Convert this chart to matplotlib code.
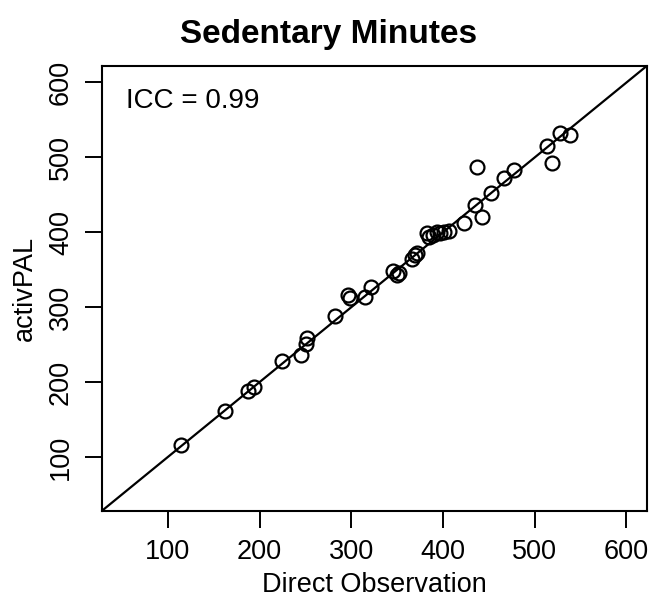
import matplotlib
matplotlib.use('Agg')
import matplotlib.pyplot as plt

plt.rcParams['font.family'] = ['Liberation Sans', 'DejaVu Sans']

# Direct observation vs activPAL sedentary minutes
direct_obs = [114, 162, 187, 194, 225, 245, 251, 252, 282, 297, 299, 315, 322,
              346, 350, 352, 366, 370, 372, 383, 385, 389, 393, 397, 401, 407,
              423, 435, 442, 437, 452, 467, 477, 513, 519, 528, 538]
activpal = [116, 161, 188, 194, 228, 236, 251, 259, 288, 316, 312, 313, 327,
            348, 343, 346, 365, 370, 373, 399, 394, 396, 400, 399, 400, 402,
            412, 436, 420, 487, 453, 472, 483, 515, 493, 532, 530]
ticks = [100, 200, 300, 400, 500, 600]
icc_label = 'ICC = 0.99'

fig = plt.figure(figsize=(6.54, 5.99), dpi=100)
ax = fig.add_axes([0.1555, 0.1469, 0.8333, 0.7429])

ax.plot(direct_obs, activpal, 'o', mfc='none', mec='black', ms=10, mew=1.6)
ax.axline((0, 0), slope=1, color='black', lw=1.6)

ax.set_xlim(28, 622)
ax.set_ylim(28, 622)
ax.set_xticks(ticks)
ax.set_yticks(ticks)
ax.tick_params(length=12, width=1.4, labelsize=19.5, pad=8)
for lab in ax.get_yticklabels():
    lab.set_rotation(90)
    lab.set_va('center')
for s in ax.spines.values():
    s.set_linewidth(1.5)

ax.text(55, 575, icc_label, ha='left', va='center', fontsize=20)

ax.set_xlabel('Direct Observation', fontsize=19.5, labelpad=5)
ax.set_ylabel('activPAL', fontsize=19.5, labelpad=7)
fig.text(329 / 654, 1 - 35 / 599, 'Sedentary Minutes', ha='center', va='center',
         fontsize=24, fontweight='bold')

plt.savefig('out.png', dpi=100)
